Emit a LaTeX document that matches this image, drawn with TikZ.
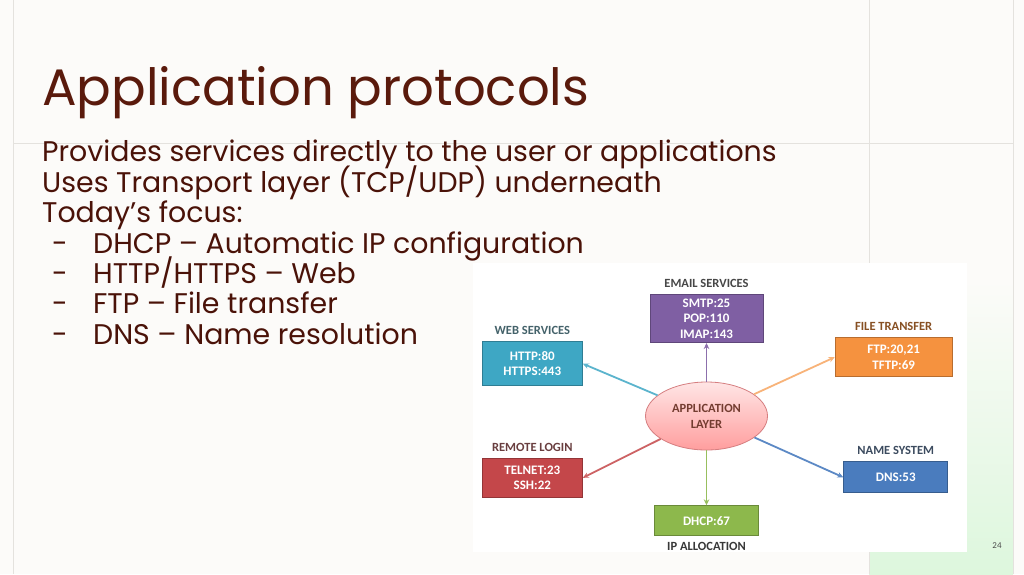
\documentclass[tikz,border=0pt]{standalone}
\usepackage{fontspec}
\setmainfont{Poppins}
\newfontfamily\diafont{Carlito}
\usetikzlibrary{positioning,shapes.geometric,arrows.meta}

\definecolor{slidebg}{HTML}{FCFBF9}
\definecolor{rule}{HTML}{E4E2DE}
\definecolor{titlecol}{HTML}{5A1A0C}
\definecolor{bodycol}{HTML}{4A1208}
\definecolor{mint}{HTML}{DDF7DD}
\definecolor{emailc}{HTML}{7F5FA3}
\definecolor{webc}{HTML}{3EA7C4}
\definecolor{filec}{HTML}{F5923F}
\definecolor{remotec}{HTML}{C4474A}
\definecolor{namec}{HTML}{4A7CBE}
\definecolor{dhcpc}{HTML}{8DB84C}

\begin{document}
\begin{tikzpicture}[x=1pt, y=-1pt,
  box/.style={draw, line width=1pt, inner sep=0pt, align=center, text=white,
    font=\diafont\bfseries\fontsize{13}{15.6}\selectfont},
  lbl/.style={inner sep=0pt, text height=8.5pt, text depth=0pt,
    font=\diafont\bfseries\fontsize{12.5}{14}\selectfont},
  link/.style={line width=1.8pt, -{Stealth[length=6pt,width=5.5pt]}},
  body/.style={anchor=base west, inner sep=0pt, text=bodycol,
    font=\fontsize{28.4}{31}\selectfont}]

% slide
\useasboundingbox[fill=slidebg] (0,0) rectangle (1024,574);
\shade[top color=slidebg, bottom color=mint] (869,280) rectangle (1013,574);
\draw[rule, line width=0.8pt] (13,0) -- (13,574) (869,0) -- (869,574)
  (1013,0) -- (1013,574) (13,143) -- (1013,143);

\node[anchor=base west, inner sep=0pt, text=titlecol,
  font=\fontsize{51.3}{60}\selectfont] (title) at (42,105) {Application protocols};

\foreach \txt [count=\i] in {Provides services directly to the user or applications,
  Uses Transport layer (TCP/UDP) underneath,
  Today’s focus:,
  {\makebox[51pt][l]{\hspace*{10pt}-}DHCP – Automatic IP configuration},
  {\makebox[51pt][l]{\hspace*{10pt}-}HTTP/HTTPS – Web},
  {\makebox[51pt][l]{\hspace*{10pt}-}FTP – File transfer},
  {\makebox[51pt][l]{\hspace*{10pt}-}DNS – Name resolution}}
  \node[body] (line\i) at (42,131.2+30.45*\i) {\txt};

% the diagram
\fill[white] (473,263) rectangle (967,552);

\node[ellipse, draw=remotec!70, line width=0.8pt, top color=red!10, bottom color=red!38,
  minimum width=122pt, minimum height=68pt, inner sep=0pt, align=center, text=titlecol!85,
  font=\diafont\bfseries\fontsize{12.5}{16}\selectfont] (app) at (706.5,416) {APPLICATION\\LAYER};

\node[box, fill=emailc, draw=emailc!75!black, minimum width=113pt, minimum height=48pt]
  (email) at (706.5,318.5) {SMTP:25\\POP:110\\IMAP:143};
\node[box, fill=webc, draw=webc!75!black, minimum width=100pt, minimum height=44pt]
  (web) at (532.3,363.7) {HTTP:80\\HTTPS:443};
\node[box, fill=filec, draw=filec!75!black, minimum width=117pt, minimum height=39pt]
  (file) at (893.7,357.2) {FTP:20,21\\TFTP:69};
\node[box, fill=remotec, draw=remotec!75!black, minimum width=100pt, minimum height=39pt]
  (remote) at (532.3,477.8) {TELNET:23\\SSH:22};
\node[box, fill=namec, draw=namec!75!black, minimum width=104pt, minimum height=31pt]
  (name) at (895.8,477.3) {DNS:53};
\node[box, fill=dhcpc, draw=dhcpc!75!black, minimum width=104pt, minimum height=30pt]
  (dhcp) at (706.5,520.8) {DHCP:67};

\node[lbl, text=black!72, above=6.5pt of email] (emaill) {EMAIL SERVICES};
\node[lbl, text=webc!35!black!80, above=6.5pt of web] (webl) {WEB SERVICES};
\node[lbl, text=filec!55!black, above=6.5pt of file] (filel) {FILE TRANSFER};
\node[lbl, text=remotec!40!black!85, above=6.5pt of remote] (remotel) {REMOTE LOGIN};
\node[lbl, text=namec!35!black!85, above=6.5pt of name] (namel) {NAME SYSTEM};
\node[lbl, text=black!78, below=5pt of dhcp] (dhcpl) {IP ALLOCATION};

\draw[link, emailc!90] (app) -- (email.south);
\draw[link, webc!85] (app) -- (web.east);
\draw[link, filec!70] (app) -- (file.west);
\draw[link, remotec!85] (app) -- (remote.east);
\draw[link, namec!90] (app) -- (name.west);
\draw[link, dhcpc!90] (app) -- (dhcp.north);

\node[text=black!70, font=\diafont\fontsize{9}{10}\selectfont] (pagenum) at (997,546) {24};
\end{tikzpicture}
\end{document}
